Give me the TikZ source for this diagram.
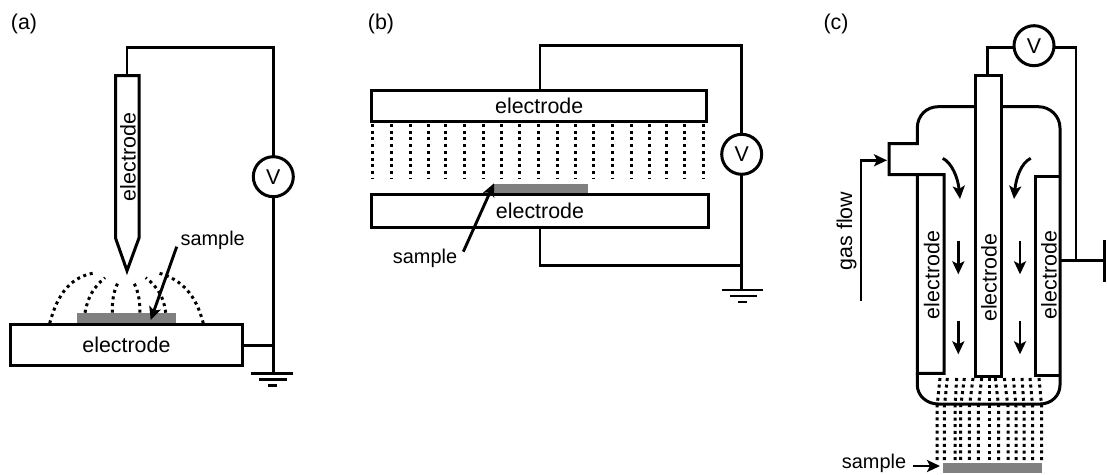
\documentclass[tikz,border=0pt]{standalone}
\usepackage{fontspec}
\setmainfont{Liberation Sans}
\usetikzlibrary{arrows.meta}
\tikzset{
  every node/.style={font=\fontsize{21.4}{25}\selectfont,inner sep=0pt,outer sep=0pt},
  smalltext/.style={font=\fontsize{19.9}{24}\selectfont},
  wire/.style={line width=2.9pt,line join=miter,line cap=butt,black},
  housing/.style={line width=3pt,line join=miter,line cap=butt,black},
  thinwire/.style={line width=2.6pt,black},
  plate/.style={draw,line width=3pt,rectangle,anchor=center},
  meter/.style={draw,circle,line width=3pt,minimum size=40pt,fill=white},
  samplebar/.style={fill=black!50,rectangle,anchor=center},
  pointer/.style={line width=2.9pt,-{Stealth[length=13pt,width=12pt,inset=3pt]}},
  flowarrow/.style={line width=2.9pt,-{Stealth[length=13pt,width=12pt,inset=3pt]}},
  field/.style={line width=3pt,dash pattern=on 3pt off 3.7pt},
  cfield/.style={line width=3pt,dash pattern=on 3pt off 3.6pt}
}
\begin{document}
\begin{tikzpicture}[x=1pt,y=-1pt]
\useasboundingbox (0,0) rectangle (1107,474);

% ---------- (a)
\node (la) at (24,24) {(a)};
\node[samplebar,minimum width=99pt,minimum height=11.4pt] (sa) at (126.2,319) {};
\node[plate,minimum width=231.3pt,minimum height=41pt] (ea) at (126.4,345.2) {electrode};
\node[rotate=90] (na) at (128,157) {electrode};
\coordinate (natop) at (127,75.7);
\draw[housing] (115.5,75.7) -- (139,75.7) -- (139,238) -- (127,270.7) -- (115.5,238) -- cycle;
\node[meter] (va) at (273.3,176.7) {V};
\coordinate (ca1) at (127,47.7);
\coordinate (ca2) at (273.3,47.7);
\coordinate (ga) at (273.3,373.5);
\coordinate (ja) at (273.3,345.7);
\draw[wire] (natop) -- (ca1) -- (ca2) -- (va.north);
\draw[wire] (va.south) -- (ga);
\draw[thinwire] (ea.east |- ja) -- (ja);
\coordinate (gal1) at (251,373.5);\coordinate (gar1) at (293,373.5);
\coordinate (gal2) at (259,379.7);\coordinate (gar2) at (287,379.7);
\coordinate (gal3) at (268,385.7);\coordinate (gar3) at (277,385.7);
\draw[thinwire] (gal1) -- (gar1) (gal2) -- (gar2) (gal3) -- (gar3);
\node[smalltext] (ta) at (212.7,240) {sample};
\coordinate (pa0) at (176.7,246.7);
\coordinate (pa1) at (150.7,320);
\draw[pointer] (pa0) -- (pa1);
\draw[field] (49.7,323.3) .. controls (58,292) and (72,276) .. (96,272.7);
\draw[field] (85,312.7) .. controls (88,296) and (94,287) .. (105,277.7);
\draw[field] (112.3,312.7) .. controls (112,300) and (114,290) .. (118.3,282);
\draw[field] (140,312.7) .. controls (140,300) and (138,290) .. (133.3,282);
\draw[field] (165.7,312.7) .. controls (164,298) and (158,287) .. (145.7,277.7);
\draw[field] (203.3,323.3) .. controls (196,295) and (182,279) .. (157.3,272.7);

% ---------- (b)
\node (lb) at (381,24) {(b)};
\node[samplebar,minimum width=94pt,minimum height=10pt] (sb) at (541,189.3) {};
\node[plate,minimum width=335pt,minimum height=30.4pt] (etb) at (539.2,105.9) {electrode};
\node[plate,minimum width=336.6pt,minimum height=33.3pt] (ebb) at (540,210.7) {electrode};
\node[meter] (vb) at (741.7,154.3) {V};
\coordinate (cb0) at (540,90.7);
\coordinate (cb1) at (540,45.7);
\coordinate (cb2) at (741.7,45.7);
\coordinate (cb3) at (540,227.3);
\coordinate (cb4) at (540,265.7);
\coordinate (jb) at (741.7,265.7);
\coordinate (gb) at (741.7,290);
\draw[wire] (cb0) -- (cb1) -- (cb2) -- (vb.north);
\draw[wire] (vb.south) -- (gb);
\draw[wire] (cb3) -- (cb4) -- (jb);
\coordinate (gbl1) at (721.7,290);\coordinate (gbr1) at (763,290);
\coordinate (gbl2) at (730,296);\coordinate (gbr2) at (756.7,296);
\coordinate (gbl3) at (738,302);\coordinate (gbr3) at (746.7,302);
\draw[thinwire] (gbl1) -- (gbr1) (gbl2) -- (gbr2) (gbl3) -- (gbr3);
\foreach \z in {67,124,181,234,287,344,401,455,508,565,622,676,729,786,843,897,950,1003,1060}
  \draw[field] ({350+\z/3},124) -- ++(0,54);
\node[smalltext] (tb) at (425,258) {sample};
\coordinate (pb0) at (463.3,251.7);
\coordinate (pb1) at (494,183.3);
\draw[pointer] (pb0) -- (pb1);

% ---------- (c)
\node (lc) at (836,24) {(c)};
\node[samplebar,minimum width=98.4pt,minimum height=10pt] (sc) at (992.5,467.7) {};
\node[plate,minimum width=25.6pt,minimum height=300.3pt] (ecc) at (988.5,225.85) {};
\node[rotate=90] at (989,277.7) {electrode};
\node[meter] (vc) at (1034,45.7) {V};
\coordinate (cc1) at (987.7,47.7);
\coordinate (cc2) at (987.7,75.7);
\coordinate (cc3) at (1076,47.7);
\coordinate (cc4) at (1076,260.7);
\coordinate (ctl) at (1060,260.7);
\coordinate (ctr) at (1104.3,260.7);
\coordinate (ctt) at (1104.3,240);
\coordinate (ctb) at (1104.3,282.3);
\draw[wire] (vc.west |- cc1) -- (cc1) -- (cc2);
\draw[wire] (vc.east |- cc3) -- (cc3) -- (cc4);
\draw[wire] (ctl) -- (ctr);
\draw[wire] (ctt) -- (ctb);
% housing and outer electrodes
\draw[housing]
  (975.7,106.7) -- (938.3,106.7) .. controls (926,106.7) and (917.3,116) .. (917.3,128)
  -- (917.3,143.7) -- (889,143.7) -- (889,174.7) -- (944,174.7) -- (944,373.3) -- (917.3,373.3) -- (917.3,174.7);
\draw[housing]
  (1001.3,106.7) -- (1038.3,106.7) .. controls (1050,106.7) and (1060,116) .. (1060,128)
  -- (1060,385) .. controls (1060,396) and (1051,404) .. (1040,404)
  -- (938.3,404) .. controls (927,404) and (917.3,396) .. (917.3,385) -- (917.3,373.3);
\draw[housing] (1060,176) -- (1035.3,176) -- (1035.3,375) -- (1060,375);
\node[rotate=90] at (931.7,275) {electrode};
\node[rotate=90] at (1049,275) {electrode};
\node[rotate=90] at (846.7,231) {gas flow};
\coordinate (gf0) at (861,300.7);
\coordinate (gf1) at (861,160.3);
\coordinate (gf2) at (887,160.3);
\draw[wire,-{Stealth[length=13pt,width=12pt,inset=3pt]}] (gf0) -- (gf1) -- (gf2);
\draw[flowarrow] (942.7,158.3) .. controls (952,163) and (958,178) .. (960,199);
\draw[flowarrow] (1030.7,158.3) .. controls (1021,163) and (1016,178) .. (1014,199);
\foreach \ax in {958.3,1020}{
  \draw[flowarrow] (\ax,240.7) -- (\ax,274.3);
  \draw[flowarrow] (\ax,320.7) -- (\ax,354.3);
}
\foreach \tx/\mx in {390/381,412/403,440/435,463/452,489/478,515/505,538/538,556/566,583/594,610/618,636/642,660/668,687/695}{
  \draw[cfield] ({810+\tx/3},378) -- ({810+\mx/3},407) -- ({810+\mx/3},461);
}
\node[smalltext,anchor=base] (tc) at (874,468) {sample};
\coordinate (pc0) at (913.3,466);
\coordinate (pc1) at (940,466);
\draw[pointer] (pc0) -- (pc1);
\end{tikzpicture}
\end{document}
